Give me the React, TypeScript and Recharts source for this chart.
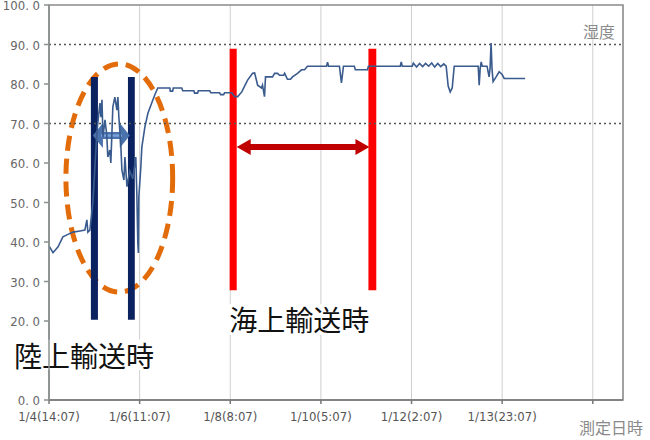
import React from 'react';
import {
  ComposedChart, Line, XAxis, YAxis, CartesianGrid, ReferenceLine, ReferenceArea,
} from 'recharts';

// hours since 1/4 14:07
const hours = [
  0, 2.0, 4.5, 6.9, 8.9, 11.9, 15.4, 17.8, 18.8, 19.3, 20.3, 21.8, 23.8,
  25.3, 25.8, 26.3, 26.8, 27.8, 28.7, 29.2, 30.2, 30.7, 31.2, 31.7, 32.7, 33.7, 34.2, 34.7,
  35.7, 36.2, 37.2, 37.7, 38.7, 40.1, 41.6, 43.1, 43.6, 44.1, 44.4, 44.6, 45.6, 46.1,
  47.6, 49.1, 51.0, 52.5, 54.0, 60.0, 60.2, 61.4, 61.7, 65.9, 66.4, 71.9, 72.3, 73.8,
  74.1, 79.8, 80.3, 84.7, 85.2, 86.7, 87.2, 90.7, 92.2, 93.7, 95.7, 98.6, 101.1, 102.1,
  103.6, 105.5, 106.0, 107.0, 107.5, 111.0, 112.0, 113.5, 114.5, 116.5, 117.0, 118.4,
  119.9, 120.9, 123.4, 125.4, 126.9, 128.3, 137.8, 138.3, 138.8, 144.2, 145.2, 146.2,
  151.6, 152.1, 158.1, 158.6, 174.4, 174.9, 175.4, 180.4, 180.9, 182.5, 184.0, 185.5,
  187.0, 188.5, 190.0, 191.5, 193.0, 194.5, 196.0, 197.2, 198.2, 199.2, 200.2, 201.2,
  213.1, 213.6, 214.1, 214.6, 215.1, 217.5, 218.5, 219.0, 219.5, 220.0, 220.5, 222.0,
  223.5, 225.0, 226.0, 236.4,
];
const humidity = [
  39, 37.3, 38.8, 41.3, 41.8, 42.5, 42.8, 43, 45.6, 42.5, 43, 50, 68,
  75.2, 71.6, 76, 66.6, 70.9, 67, 61.5, 63.3, 60, 67, 74.2, 76.7, 73.4, 76.7, 71.6,
  64, 58.2, 55.7, 61.5, 54, 58, 56, 61.5, 52.4, 39.7, 37.2, 51.4, 59, 64,
  69.1, 72.6, 75.2, 77.2, 79, 79, 78.2, 78.2, 79, 79, 78.3, 78.3, 77.7, 77.7,
  78.3, 78.3, 77.8, 77.8, 77.3, 77.3, 77.8, 77.8, 76.8, 76.8, 78, 81, 82.7, 82.8,
  79.7, 79, 79.7, 76.8, 81.8, 81.8, 82.7, 82.7, 82.2, 82.2, 82.7, 81.2,
  81.2, 81.8, 82.7, 83.6, 83.6, 84.5, 84.5, 85.5, 84.5, 84.5, 80.3, 84.5,
  84.5, 83.6, 83.6, 84.5, 84.5, 85.6, 84.5, 84.5, 85.3, 84.3, 85.2, 84.4,
  85.2, 84.5, 85.3, 84.3, 85.2, 84.4, 85.1, 84.5, 79.5, 78, 79, 84.5,
  84.5, 79.7, 84, 85.6, 84.5, 84.5, 81.8, 84, 90.4, 83.5, 80.6, 81.8,
  83.1, 82.4, 81.4, 81.4,
];

const tickHours = [0, 45, 90, 135, 180, 225, 270];
const tickLabels = ['1/4(14:07)', '1/6(11:07)', '1/8(8:07)', '1/10(5:07)', '1/12(2:07)', '1/13(23:07)', ''];
const yTicks = [0, 20, 30, 40, 50, 60, 70, 80, 90, 100];
const dottedLevels = [90, 70];

// annotation extents in data units [h1, h2, v1, v2]
const navyBars = [[20.8, 24.3, 20.3, 81.8], [39.2, 42.6, 20.3, 81.8]];
const redBars = [[89.7, 93.2, 27.8, 88.9], [158.6, 162.5, 27.8, 88.9]];
const ellipseBox = [8.4, 61.4, 27.3, 85.1];
const blueArrow = [21.8, 40.1, 63.8, 70.1];
const redArrow = [93.2, 159.1, 62.0, 66.1];
const seaLabel = { text: '海上輸送時', box: [87.6, 160.8, 16.5, 24.3] };
const landLabel = { text: '陸上輸送時', box: [-19.3, 54.0, 7.6, 15.3] };

const data = hours.map((h, i) => ({ h, v: humidity[i] }));

const axisFont = "'Liberation Sans Narrow', 'DejaVu Sans Condensed', 'Roboto', sans-serif";
const cjkFont = "'Noto Sans CJK JP', 'Noto Sans CJK SC', sans-serif";

const fmtY = (v: number) => v.toFixed(1).replace('.', '. ');

function arrowShape(fill: string, inner: string | null, headLen: number, shaft: number) {
  return (p: any) => {
    const { x, y, width: w, height: hh } = p;
    const cy = y + hh / 2;
    const t = shaft / 2;
    const pts = [
      [x, cy], [x + headLen, y], [x + headLen, cy - t], [x + w - headLen, cy - t],
      [x + w - headLen, y], [x + w, cy], [x + w - headLen, y + hh], [x + w - headLen, cy + t],
      [x + headLen, cy + t], [x + headLen, y + hh],
    ].map((q) => q.join(',')).join(' ');
    return (
      <g>
        <polygon points={pts} fill={fill} />
        {inner ? <rect x={x + headLen - 2} y={cy - 1.2} width={w - 2 * headLen + 4} height={2.4} fill={inner} /> : null}
      </g>
    );
  };
}

const ellipseShape = (p: any) => {
  const { x, y, width: w, height: hh } = p;
  return (
    <ellipse cx={x + w / 2} cy={y + hh / 2} rx={w / 2} ry={hh / 2} fill="none"
      stroke="#e36c0a" strokeWidth={5} strokeDasharray="15 8" />
  );
};

const textShape = (label: string) => (p: any) => {
  const { x, y, width: w, height: hh } = p;
  return (
    <g>
      <rect x={x} y={y} width={w} height={hh} fill="#ffffff" />
      <text x={x + w / 2} y={y + hh / 2} textAnchor="middle" dominantBaseline="central"
        fontFamily={cjkFont} fontSize={28} fill="#111">{label}</text>
    </g>
  );
};

const XTick = (p: any) => {
  const { x, y, payload } = p;
  const idx = tickHours.indexOf(payload.value);
  return (
    <text x={x} y={y + 15} textAnchor="middle" fontFamily={axisFont} fontSize={13} fill="#555">
      {idx >= 0 ? tickLabels[idx] : ''}
    </text>
  );
};

const YTick = (p: any) => {
  const { x, y, payload } = p;
  return (
    <text x={x} y={y + 5} textAnchor="end" fontFamily={axisFont} fontSize={13} fill="#666">
      {fmtY(payload.value)}
    </text>
  );
};

export default function App() {
  return (
    <div style={{ position: 'absolute', left: 0, top: 0, width: 650, height: 440, background: '#fff' }}>
      <ComposedChart width={650} height={440} data={data}
        margin={{ top: 5, right: 27, left: 0, bottom: 8 }}>
        <CartesianGrid horizontal={false} vertical stroke="#cfcfcf" strokeWidth={1} />
        <XAxis dataKey="h" type="number" domain={[0, 285]} ticks={tickHours} interval={0} height={32}
          tick={<XTick />} tickSize={4} stroke="#777" strokeWidth={1.5} allowDataOverflow />
        <YAxis type="number" domain={[0, 100]} ticks={yTicks} interval={0} width={49} allowDataOverflow
          tick={<YTick />} tickSize={5} tickMargin={4} stroke="#8a9292" strokeWidth={1.5} />
        {dottedLevels.map((lv) => (
          <ReferenceLine key={lv} y={lv} stroke="#555" strokeWidth={1.6} strokeDasharray="2 3" />
        ))}
        <ReferenceArea x1={0} x2={285} y1={0} y2={100} fill="none" stroke="#8a8a8a" strokeWidth={1.5} />
        <ReferenceArea x1={0} x2={285} y1={0} y2={100} fill="none" stroke="none"
          shape={(p: any) => (
            <g>
              <text x={p.x + p.width - 8} y={p.y + 33} textAnchor="end" fontFamily={cjkFont}
                fontSize={16} fill="#8a8a8a">湿度</text>
              <text x={p.x + p.width + 20} y={p.y + p.height + 34} textAnchor="end" fontFamily={cjkFont}
                fontSize={16} fill="#8a8a8a">測定日時</text>
            </g>
          )} />
        <Line type="linear" dataKey="v" stroke="#3a5b8e" strokeWidth={1.6} dot={false}
          isAnimationActive={false} />
        <ReferenceArea x1={ellipseBox[0]} x2={ellipseBox[1]} y1={ellipseBox[2]} y2={ellipseBox[3]}
          shape={ellipseShape} ifOverflow="visible" />
        {navyBars.map((b, i) => (
          <ReferenceArea key={'n' + i} x1={b[0]} x2={b[1]} y1={b[2]} y2={b[3]} fill="#0b2260"
            fillOpacity={1} stroke="none" ifOverflow="visible" />
        ))}
        <ReferenceArea x1={blueArrow[0]} x2={blueArrow[1]} y1={blueArrow[2]} y2={blueArrow[3]}
          shape={arrowShape('#4a72ad', '#7aa3dc', 10, 7)} ifOverflow="visible" />
        {redBars.map((b, i) => (
          <ReferenceArea key={'r' + i} x1={b[0]} x2={b[1]} y1={b[2]} y2={b[3]} fill="#ff0000"
            fillOpacity={1} stroke="none" ifOverflow="visible" />
        ))}
        <ReferenceArea x1={redArrow[0]} x2={redArrow[1]} y1={redArrow[2]} y2={redArrow[3]}
          shape={arrowShape('#c00000', null, 14, 6)} ifOverflow="visible" />
        <ReferenceArea x1={seaLabel.box[0]} x2={seaLabel.box[1]} y1={seaLabel.box[2]} y2={seaLabel.box[3]}
          shape={textShape(seaLabel.text)} ifOverflow="visible" />
        <ReferenceArea x1={landLabel.box[0]} x2={landLabel.box[1]} y1={landLabel.box[2]} y2={landLabel.box[3]}
          shape={textShape(landLabel.text)} ifOverflow="visible" />
      </ComposedChart>
    </div>
  );
}
